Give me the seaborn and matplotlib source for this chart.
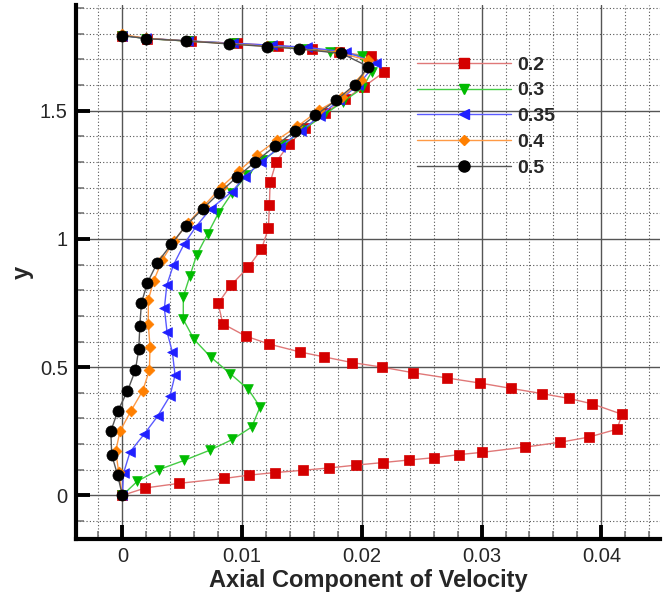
import numpy as np
import pandas as pd
import matplotlib
matplotlib.use("Agg")
import matplotlib.pyplot as plt
from matplotlib.lines import Line2D
from matplotlib.ticker import MultipleLocator
import seaborn as sns

# ---------------- data ----------------
labels = ["0.2", "0.3", "0.35", "0.4", "0.5"]

red_x = [0, 0.00192, 0.00474, 0.00850, 0.01056, 0.01276, 0.01507, 0.01727, 0.01949, 0.02175,
         0.02393, 0.02603, 0.02810, 0.03007, 0.03359, 0.03654, 0.03893, 0.04130, 0.04174, 0.03923,
         0.03731, 0.03503, 0.03249, 0.02986, 0.02709, 0.02431, 0.02169, 0.01917, 0.01685, 0.01485,
         0.01226, 0.01031, 0.00839, 0.00800, 0.00906, 0.01050, 0.01162, 0.01220, 0.01228, 0.01234,
         0.01284, 0.01395, 0.01526, 0.01695, 0.01861, 0.02019, 0.02189, 0.02075, 0.01810, 0.01582,
         0.01303, 0.00956, 0.00572, 0.00210, 0]
red_y = [0, 0.029, 0.047, 0.066, 0.079, 0.089, 0.098, 0.107, 0.118, 0.128,
         0.138, 0.147, 0.159, 0.168, 0.188, 0.207, 0.227, 0.258, 0.316, 0.357,
         0.378, 0.397, 0.417, 0.438, 0.458, 0.478, 0.500, 0.518, 0.540, 0.559,
         0.590, 0.621, 0.669, 0.749, 0.819, 0.889, 0.960, 1.042, 1.132, 1.220,
         1.300, 1.371, 1.431, 1.491, 1.546, 1.594, 1.652, 1.712, 1.729, 1.742,
         1.754, 1.762, 1.771, 1.781, 1.793]

green_x = [0, 0.00125, 0.00302, 0.00519, 0.00729, 0.00919, 0.01081, 0.01150, 0.01053, 0.00900,
           0.00741, 0.00599, 0.00509, 0.00509, 0.00565, 0.00621, 0.00713, 0.00802, 0.00914, 0.01039,
           0.01178, 0.01340, 0.01510, 0.01680, 0.01841, 0.02003, 0.02083, 0.02000, 0.01735, 0.01500,
           0.01250, 0.00930, 0.00560, 0.00200, 0]
green_y = [0, 0.055, 0.100, 0.137, 0.176, 0.218, 0.267, 0.345, 0.413, 0.475,
           0.538, 0.608, 0.686, 0.775, 0.857, 0.938, 1.020, 1.100, 1.178, 1.249,
           1.307, 1.365, 1.425, 1.482, 1.535, 1.587, 1.652, 1.713, 1.730, 1.742,
           1.752, 1.762, 1.771, 1.781, 1.793]

blue_x = [0, 0.00010, 0.00064, 0.00181, 0.00295, 0.00398, 0.00440, 0.00418, 0.00373, 0.00351,
          0.00371, 0.00426, 0.00516, 0.00615, 0.00739, 0.00914, 0.01025, 0.01160, 0.01320, 0.01490,
          0.01650, 0.01810, 0.01970, 0.02120, 0.01869, 0.01540, 0.01250, 0.00920, 0.00550, 0.00200, 0]
blue_y = [0, 0.087, 0.169, 0.238, 0.309, 0.388, 0.469, 0.558, 0.638, 0.729,
          0.819, 0.898, 0.980, 1.048, 1.118, 1.184, 1.243, 1.300, 1.360, 1.420,
          1.480, 1.540, 1.600, 1.686, 1.729, 1.747, 1.755, 1.763, 1.772, 1.782, 1.793]

orange_x = [0, -0.00030, -0.00055, -0.00020, 0.00070, 0.00170, 0.00226, 0.00231, 0.00217, 0.00217,
            0.00262, 0.00334, 0.00432, 0.00546, 0.00683, 0.00830, 0.00977, 0.01128, 0.01295, 0.01462,
            0.01646, 0.01835, 0.01997, 0.02055, 0.01800, 0.01480, 0.01210, 0.00900, 0.00530, 0.00200, 0]
orange_y = [0, 0.090, 0.172, 0.250, 0.328, 0.408, 0.488, 0.579, 0.668, 0.762,
            0.837, 0.918, 0.992, 1.061, 1.130, 1.204, 1.266, 1.329, 1.387, 1.439,
            1.503, 1.553, 1.618, 1.696, 1.727, 1.741, 1.751, 1.761, 1.772, 1.782, 1.797]

black_x = [0, -0.00039, -0.00089, -0.00096, -0.00039, 0.00042, 0.00109, 0.00137, 0.00146, 0.00159,
           0.00209, 0.00292, 0.00410, 0.00530, 0.00671, 0.00811, 0.00956, 0.01112, 0.01273, 0.01440,
           0.01613, 0.01785, 0.01942, 0.02054, 0.01830, 0.01473, 0.01208, 0.00893, 0.00532, 0.00200, 0]
black_y = [0, 0.078, 0.159, 0.250, 0.328, 0.406, 0.488, 0.569, 0.660, 0.749,
           0.829, 0.907, 0.980, 1.051, 1.117, 1.180, 1.241, 1.301, 1.361, 1.420,
           1.482, 1.540, 1.602, 1.672, 1.723, 1.741, 1.750, 1.760, 1.772, 1.781, 1.793]

x_ticks = [0, 0.01, 0.02, 0.03, 0.04]
x_tick_labels = ["0", "0.01", "0.02", "0.03", "0.04"]
y_ticks = [0, 0.5, 1, 1.5]
y_tick_labels = ["0", "0.5", "1", "1.5"]

series_x = [red_x, green_x, blue_x, orange_x, black_x]
series_y = [red_y, green_y, blue_y, orange_y, black_y]

# ---------------- style ----------------
line_colors = ["#e07878", "#44cc44", "#5a5aff", "#ff9a45", "#555555"]
mark_colors = ["#d40000", "#00bb00", "#2020ff", "#ff7f00", "#000000"]
markers = ["s", "v", "<", "D", "o"]
msizes = [6.5, 7.0, 7.0, 5.5, 8.0]

sns.set_style("white")
plt.rcParams["font.family"] = ["Liberation Sans", "DejaVu Sans"]

fig = plt.figure(figsize=(6.72, 5.94), dpi=100)
ax = fig.add_axes([76 / 672, (594 - 539) / 594, 584 / 672, 534 / 594])

frames = []
for lab, xs, ys in zip(labels, series_x, series_y):
    frames.append(pd.DataFrame({"x": xs, "y": ys, "series": lab, "order": np.arange(len(xs))}))
df = pd.concat(frames, ignore_index=True)

for i, lab in enumerate(labels):
    d = df[df["series"] == lab]
    sns.lineplot(data=d, x="x", y="y", sort=False, estimator=None, ax=ax,
                 color=line_colors[i], lw=1.0, zorder=3 + i)
    sns.scatterplot(data=d, x="x", y="y", ax=ax, marker=markers[i], s=msizes[i] ** 2,
                    color=mark_colors[i], edgecolor=mark_colors[i], linewidth=0.5,
                    zorder=3.5 + i, legend=False)

ax.set_xlim(-0.00387, 0.0449)
ax.set_ylim(-0.170, 1.912)

ax.set_xticks(x_ticks)
ax.set_xticklabels(x_tick_labels)
ax.set_yticks(y_ticks)
ax.set_yticklabels(y_tick_labels)
ax.xaxis.set_minor_locator(MultipleLocator(0.002))
ax.yaxis.set_minor_locator(MultipleLocator(0.1))

ax.grid(which="major", color="#555555", lw=1.0, ls="-", zorder=1)
ax.grid(which="minor", color="#555555", lw=0.8, ls=(0, (1, 2)), zorder=1)
ax.set_axisbelow(True)

for side in ["top", "right"]:
    ax.spines[side].set_visible(False)
for side in ["left", "bottom"]:
    ax.spines[side].set_linewidth(3)
    ax.spines[side].set_color("black")

ax.tick_params(which="major", direction="in", length=10, width=2.8, color="black",
               labelsize=14.5, pad=6, bottom=True, left=True, top=False, right=False)
ax.tick_params(which="minor", direction="in", length=6, width=1.2, color="#777777",
               bottom=True, left=True, top=False, right=False)

ax.set_xlabel("Axial Component of Velocity", fontsize=17, fontweight="bold", labelpad=2)
ax.set_ylabel("y", fontsize=17, fontweight="bold")
ax.yaxis.set_label_coords(-0.072, 0.5)

handles = [Line2D([], [], color=line_colors[i], lw=1.0, marker=markers[i], markersize=msizes[i],
                  markerfacecolor=mark_colors[i], markeredgecolor=mark_colors[i])
           for i in range(len(labels))]
leg = ax.legend(handles, labels, loc="upper left", bbox_to_anchor=(417 / 672, 1 - 56 / 594),
                bbox_transform=fig.transFigure, frameon=False, borderpad=0, borderaxespad=0,
                handlelength=4.85, handletextpad=0.3, labelspacing=0.42,
                prop={"size": 14, "weight": "bold"})
leg.set_zorder(20)

fig.savefig("out.png", dpi=100)
